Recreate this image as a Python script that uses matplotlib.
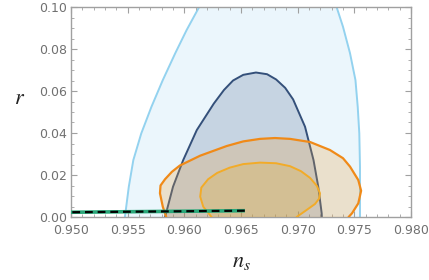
import matplotlib
matplotlib.use("Agg")
import matplotlib.pyplot as plt
from matplotlib.ticker import MultipleLocator, FormatStrFormatter

plt.rcParams["mathtext.fontset"] = "stix"

# outer light-blue region (ns, r)
blue_ns = [0.9547, 0.9548, 0.9551, 0.9555, 0.9562, 0.9571, 0.9581, 0.9592, 0.9602,
           0.9613, 0.9625,
           0.9727, 0.97344, 0.9740, 0.97462, 0.9751, 0.9753, 0.97544, 0.9755, 0.9755,
           0.9755]
blue_r = [-0.002, 0.0018, 0.0144, 0.0271, 0.0398, 0.0525, 0.0652, 0.078, 0.089,
          0.0999, 0.110,
          0.110, 0.0999, 0.0906, 0.078, 0.0652, 0.0525, 0.0398, 0.024, 0.002,
          -0.002]

# navy region
navy_ns = [0.9583, 0.9583, 0.9590, 0.9599, 0.9611, 0.9626, 0.9635, 0.9643, 0.9652,
           0.96632, 0.9673, 0.9681, 0.9689, 0.9696, 0.97065, 0.9714, 0.97182, 0.97212,
           0.97215]
navy_r = [-0.002, 0.000, 0.0144, 0.0271, 0.0414, 0.054, 0.0605, 0.0650, 0.0677,
          0.0688, 0.0680, 0.0655, 0.0615, 0.0560, 0.043, 0.0271, 0.0144, 0.0018,
          -0.002]

# outer orange region
orange_ns = [0.9585, 0.9584, 0.9581, 0.95785, 0.9579, 0.9583, 0.9589, 0.9596, 0.9614,
             0.96374, 0.9652, 0.96668, 0.9680, 0.96933, 0.9711, 0.97285, 0.9740,
             0.97462, 0.97535, 0.9756, 0.97535, 0.9748, 0.9745, 0.9744]
orange_r = [-0.002, 0.000, 0.0049, 0.0113, 0.0150, 0.0180, 0.0215, 0.0245, 0.0292,
            0.0338, 0.0360, 0.0372, 0.0376, 0.0372, 0.0357, 0.0319, 0.0280,
            0.0240, 0.0176, 0.0125, 0.0065, 0.0018, 0.000, -0.002]

# inner orange region
gold_ns = [0.9625, 0.9624, 0.96167, 0.9614, 0.9615, 0.9621, 0.9629, 0.9640, 0.9652,
           0.96668, 0.9681, 0.96933, 0.9703, 0.9711, 0.9717, 0.97197, 0.97190,
           0.97153, 0.9707, 0.96991, 0.9698]
gold_r = [-0.002, 0.000, 0.0049, 0.0097, 0.0140, 0.0180, 0.0210, 0.0235, 0.0252,
          0.0259, 0.0256, 0.0242, 0.0218, 0.0186, 0.0148, 0.0113, 0.0088,
          0.0062, 0.0030, 0.000, -0.002]

# model prediction line
line_ns = [0.949, 0.96535]
line_r = [0.00222, 0.0030]

fig = plt.figure(figsize=(4.29, 2.80), dpi=100)
ax = fig.add_axes([0.1655, 0.225, 0.7925, 0.75])

ax.fill(blue_ns, blue_r, facecolor="#ebf6fc", edgecolor="#93d2ef", lw=1.4,
        joinstyle="round", zorder=1)
ax.fill(navy_ns, navy_r, facecolor="#34507a", alpha=0.2, edgecolor="none", zorder=2)
ax.plot(navy_ns, navy_r, color="#34507a", lw=1.4, solid_joinstyle="round", zorder=2.1)
ax.fill(orange_ns, orange_r, facecolor="#e8a040", alpha=0.25, edgecolor="none", zorder=3)
ax.plot(orange_ns, orange_r, color="#f08a18", lw=1.6, solid_joinstyle="round", zorder=3.1)
ax.fill(gold_ns, gold_r, facecolor="#e0b040", alpha=0.3, edgecolor="none", zorder=4)
ax.plot(gold_ns, gold_r, color="#f2ab28", lw=1.4, solid_joinstyle="round", zorder=4.1)

ax.plot(line_ns, line_r, color="#2aa87a", lw=2.6, solid_capstyle="butt", zorder=5)
ax.plot(line_ns, line_r, color="black", lw=1.6, dashes=(3.5, 2.2), zorder=6)

ax.set_xlim(0.950, 0.980)
ax.set_ylim(0.0, 0.10)

ax.xaxis.set_major_locator(MultipleLocator(0.005))
ax.xaxis.set_minor_locator(MultipleLocator(0.001))
ax.yaxis.set_major_locator(MultipleLocator(0.02))
ax.yaxis.set_minor_locator(MultipleLocator(0.005))
ax.xaxis.set_major_formatter(FormatStrFormatter("%.3f"))
ax.yaxis.set_major_formatter(FormatStrFormatter("%.2f"))

for s in ax.spines.values():
    s.set_color("#a0a0a0")
    s.set_linewidth(1.0)
ax.tick_params(which="both", direction="in", top=True, right=True, colors="#a0a0a0",
               labelcolor="#707070", labelsize=9)
ax.tick_params(axis="x", pad=5)
ax.tick_params(axis="y", pad=3)
ax.tick_params(which="major", length=4, width=0.8)
ax.tick_params(which="minor", length=2.2, width=0.6)

ax.set_xlabel(r"$n_s$", fontsize=16, labelpad=11, color="#222222")
ax.set_ylabel(r"$r$", fontsize=16, rotation=0, color="#222222")
ax.yaxis.set_label_coords(-0.15, 0.52)

fig.savefig("out.png", dpi=100)
